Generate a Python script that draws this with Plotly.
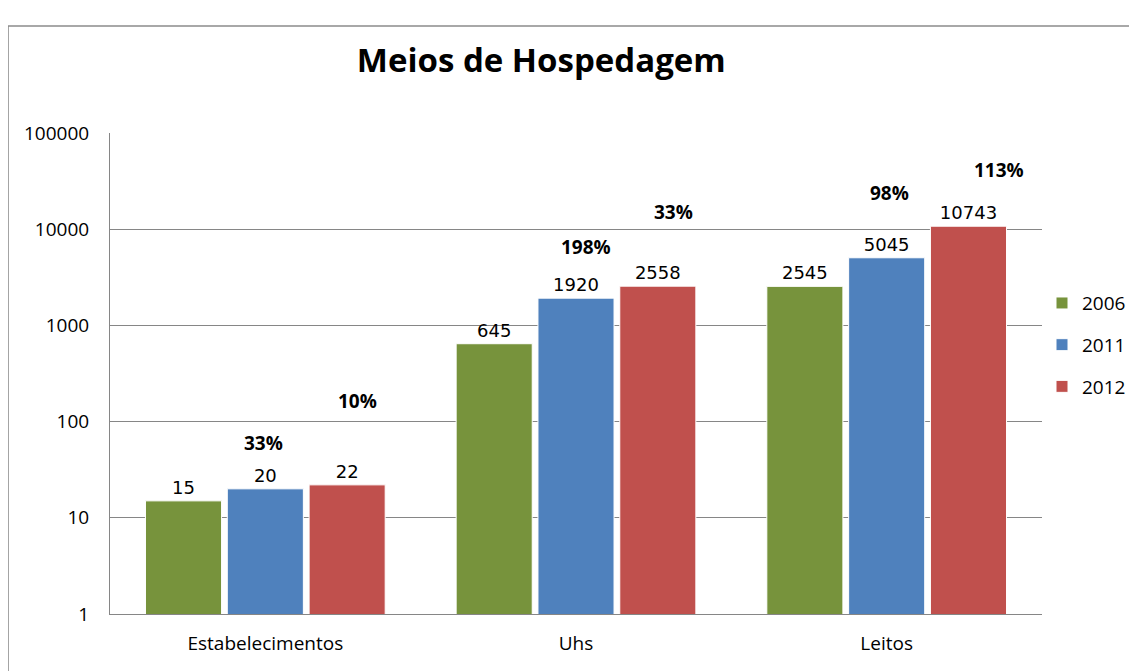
import plotly.graph_objects as go

categories = ["Estabelecimentos", "Uhs", "Leitos"]
series_names = ["2006", "2011", "2012"]
values_2006 = [15, 645, 2545]
values_2011 = [20, 1920, 5045]
values_2012 = [22, 2558, 10743]
growth_2011 = ["33%", "198%", "98%"]
growth_2012 = ["10%", "33%", "113%"]
y_ticks = [1, 10, 100, 1000, 10000, 100000]

colors = ["#77933C", "#4F81BD", "#C0504D"]
label_font = dict(family="DejaVu Sans", size=18, color="#000000")
axis_font = dict(family="Open Sans", size=19, color="#000000")

fig = go.Figure()
for name, vals, col in zip(series_names, [values_2006, values_2011, values_2012], colors):
    fig.add_trace(go.Bar(
        name=name, x=categories, y=vals, legendgroup=name,
        marker=dict(color=col, line=dict(color="#FFFFFF", width=1)),
        text=[str(v) for v in vals], textposition="outside",
        textfont=label_font, cliponaxis=False,
    ))

# growth labels (positions in paper coordinates)
pos_2011 = [(0.165, 0.356), (0.511, 0.763), (0.836, 0.876)]
pos_2012 = [(0.266, 0.443), (0.605, 0.836), (0.954, 0.923)]
ann = []
for txt, (px, py) in zip(growth_2011 + growth_2012, pos_2011 + pos_2012):
    ann.append(dict(text="<b>%s</b>" % txt, x=px, y=py, xref="paper", yref="paper",
                    xanchor="center", yanchor="middle",
                    showarrow=False, font=dict(family="Open Sans", size=19, color="#000")))

fig.update_layout(
    width=1137, height=671,
    margin=dict(l=102, r=103, t=125, b=65),
    paper_bgcolor="#FFFFFF", plot_bgcolor="#FFFFFF",
    title=dict(text="<b>Meios de Hospedagem</b>", x=0.469, xref="container", xanchor="center",
               y=0.9225, yref="container", yanchor="middle",
               font=dict(family="Open Sans", size=33, color="#000000")),
    barmode="group", bargap=0.21, bargroupgap=0.07,
    showlegend=True,
    legend=dict(x=1.0, y=0.559, xanchor="left", yanchor="middle",
                font=dict(family="Open Sans", size=19, color="#000"),
                tracegroupgap=14, itemwidth=30, bgcolor="rgba(0,0,0,0)"),
    annotations=ann,
    shapes=[dict(type="rect", xref="paper", yref="paper", x0=-0.1094, y0=-0.5, x1=2, y1=1.2225,
                 line=dict(color="#8C8C8C", width=1.5), fillcolor="rgba(0,0,0,0)", layer="below")],
)
fig.update_yaxes(type="log", range=[0, 5], tickvals=y_ticks, ticktext=[str(t) for t in y_ticks],
                 showgrid=True, gridcolor="#868686", gridwidth=1,
                 showline=True, linecolor="#868686", linewidth=1,
                 ticks="", ticklabelstandoff=16, tickfont=axis_font, zeroline=False)
fig.update_xaxes(showline=True, linecolor="#868686", linewidth=1, tickfont=axis_font,
                 ticks="", ticklabelstandoff=12, showgrid=False)

fig.write_html("out.html")
